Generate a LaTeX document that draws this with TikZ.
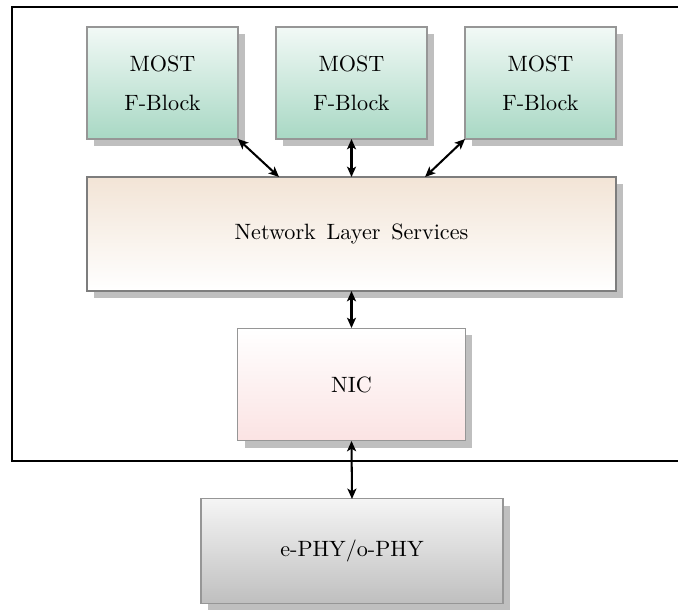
\documentclass[tikz,border=0pt]{standalone}
\usetikzlibrary{shadows,arrows.meta,calc}

\definecolor{mostbot}{RGB}{168,216,196}
\definecolor{mosttop}{RGB}{242,249,246}
\definecolor{nlstop}{RGB}{242,228,214}
\definecolor{nicbot}{RGB}{251,227,227}
\definecolor{boxedge}{RGB}{150,150,150}
\definecolor{nlsedge}{RGB}{125,125,125}

\tikzset{
  blk/.style={rectangle, inner sep=0pt, outer sep=0pt, align=center,
    draw=boxedge, line width=0.5pt,
    font=\fontsize{10.3}{12.4}\selectfont,
    drop shadow={shadow xshift=3.3pt, shadow yshift=-3.3pt,
      fill=black!25, opacity=1}},
  mostbox/.style={blk, minimum width=70.2pt, minimum height=52.1pt,
    top color=mosttop, bottom color=mostbot},
  conn/.style={line width=0.95pt,
    {Stealth[length=4.8pt,width=4.2pt,inset=1.2pt]}-{Stealth[length=4.8pt,width=4.2pt,inset=1.2pt]}}
}

\begin{document}
\begin{tikzpicture}[x=0.465pt, y=-0.465pt]
  \useasboundingbox (0,0) rectangle (678,615);

  % system frame (runs off to the right)
  \draw[line width=1pt] (690,7) -- (12,7) -- (12,461) -- (690,461);

  % function blocks
  \node[mostbox] (fb1) at (162.5,83) {MOST\\[5.6pt]F-Block};
  \node[mostbox] (fb2) at (351.5,83) {MOST\\[5.6pt]F-Block};
  \node[mostbox] (fb3) at (540.5,83) {MOST\\[5.6pt]F-Block};

  % network layer services
  \node[blk, minimum width=246pt, minimum height=53pt,
        draw=nlsedge, line width=1pt,
        top color=nlstop, bottom color=white]
        (nls) at (351.5,234) {Network\hspace{5pt}Layer\hspace{5pt}Services};

  % network interface controller
  \node[blk, minimum width=105.6pt, minimum height=52.5pt,
        top color=white, bottom color=nicbot]
        (nic) at (351.5,384.5) {NIC};

  % physical layer
  \node[blk, minimum width=140.4pt, minimum height=48.4pt,
        top color=black!4, bottom color=black!25]
        (phy) at (352,551) {e-PHY/o-PHY};

  % connectors
  \draw[conn] (fb1.south east) -- ($(nls.north west)!0.363!(nls.north east)$);
  \draw[conn] (fb2.south) -- (nls.north);
  \draw[conn] (fb3.south west) -- ($(nls.north west)!0.639!(nls.north east)$);
  \draw[conn] (nls.south) -- (nic.north);
  \draw[conn] (nic.south) -- (phy.north);
\end{tikzpicture}
\end{document}
